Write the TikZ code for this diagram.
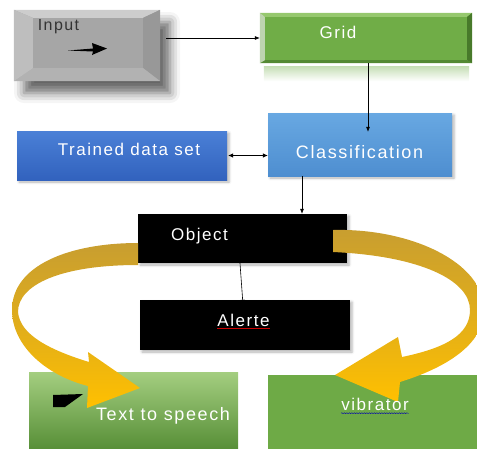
\documentclass[tikz,border=0pt]{standalone}
\usepackage{fontspec}
\setmainfont{Liberation Sans}
\newfontfamily\boxfont[LetterSpace=9]{Liberation Sans}
\usetikzlibrary{arrows.meta,shadows.blur,decorations.pathmorphing}

\definecolor{inputface}{RGB}{166,166,166}
\definecolor{inputtop}{RGB}{205,205,205}
\definecolor{inputleft}{RGB}{190,190,190}
\definecolor{inputright}{RGB}{152,152,152}
\definecolor{inputbottom}{RGB}{178,178,178}
\definecolor{gridgreen}{RGB}{112,173,71}
\definecolor{gridlight}{RGB}{150,200,110}
\definecolor{gridpale}{RGB}{190,212,175}
\definecolor{griddark}{RGB}{72,122,42}
\definecolor{trainedtop}{RGB}{74,128,214}
\definecolor{trainedbot}{RGB}{50,98,190}
\definecolor{classtop}{RGB}{104,168,226}
\definecolor{classbot}{RGB}{78,142,208}
\definecolor{ttstop}{RGB}{164,206,128}
\definecolor{ttsbot}{RGB}{86,142,54}
\definecolor{vibgreen}{RGB}{110,170,70}
\definecolor{ribbongold}{RGB}{200,158,48}
\definecolor{ribbonyellow}{RGB}{255,192,0}

\pgfdeclarelayer{front}
\pgfsetlayers{main,front}

\begin{document}
\begin{tikzpicture}[x=1pt,y=-1pt,
  box/.style={rectangle, inner sep=0pt},
  txt/.style={font=\boxfont\fontsize{17}{20}\selectfont, text=white, anchor=base, inner sep=0pt},
  link/.style={-{Latex[length=5pt,width=4pt]}, line width=0.6pt},
  softshadow/.style={blur shadow={shadow xshift=2pt, shadow yshift=-2pt, shadow blur radius=2.5pt, shadow opacity=30}},
  ribbon/.style={top color=ribbongold, bottom color=ribbonyellow, middle color=ribbongold!55!ribbonyellow}]
\useasboundingbox (0,0) rectangle (477,448);

% input key with bevel
\node[box, minimum width=146, minimum height=71, fill=inputface,
  blur shadow={shadow xshift=10pt, shadow yshift=-12pt, shadow blur radius=10pt, shadow opacity=60}] (input) at (87,45.5) {};
\fill[inputtop] (input.north west) -- (input.north east) -- ++(-17,8) -- ([shift={(19,8)}]input.north west) -- cycle;
\fill[inputright] (input.north east) -- (input.south east) -- ++(-17,-13) -- ([shift={(-17,8)}]input.north east) -- cycle;
\fill[inputbottom] (input.south east) -- (input.south west) -- ++(19,-13) -- ([shift={(-17,-13)}]input.south east) -- cycle;
\fill[inputleft] (input.south west) -- (input.north west) -- ++(19,8) -- ([shift={(19,-13)}]input.south west) -- cycle;
\fill[black] (68,50.5) -- (93,48.5) -- (92,43) -- (107,48.5) -- (92,55) -- (93,51.5) -- cycle;

% grid with thin bevel and reflection
\node[box, minimum width=212, minimum height=50, fill=gridgreen] (grid) at (366,38) {};
\fill[gridlight] (grid.north west) -- (grid.north east) -- ++(-5,4) -- ([shift={(5,4)}]grid.north west) -- cycle;
\fill[griddark] (grid.north east) -- (grid.south east) -- ++(-5,-3) -- ([shift={(-5,4)}]grid.north east) -- cycle;
\fill[griddark!70!gridgreen] (grid.south east) -- (grid.south west) -- ++(5,-3) -- ([shift={(-5,-3)}]grid.south east) -- cycle;
\fill[gridpale] (grid.south west) -- (grid.north west) -- ++(5,4) -- ([shift={(5,-3)}]grid.south west) -- cycle;
\shade[top color=gridgreen!40, bottom color=white] ([shift={(4,3)}]grid.south west) rectangle ([shift={(-3,18)}]grid.south east);

\node[box, minimum width=210, minimum height=49, top color=trainedtop, bottom color=trainedbot, softshadow] (trained) at (122,155.5) {};
\node[box, minimum width=184, minimum height=63, top color=classtop, bottom color=classbot, softshadow] (class) at (360,144.5) {};
\node[box, minimum width=209, minimum height=49, fill=black, softshadow] (object) at (242.5,238.5) {};
\node[box, minimum width=210, minimum height=50, fill=black, softshadow] (alerte) at (245,325) {};
\node[box, minimum width=209, minimum height=78, top color=ttstop, bottom color=ttsbot] (tts) at (133.5,411) {};
\node[box, minimum width=212, minimum height=75, fill=vibgreen] (vib) at (374,412.5) {};
\fill[black] (53,395) -- (83,394) -- (65,407) -- (53,407) -- cycle;

% connectors
\draw[link] (grid.west -| input.east) ++(6,0) -- (grid.west);
\draw[link] ([xshift=2pt]grid.south) -- ([xshift=8pt,yshift=-19pt]class.north);
\draw[{Latex[length=5pt,width=4.5pt]}-{Latex[length=5pt,width=4.5pt]}, line width=0.6pt] ([xshift=1pt]trained.east) -- (trained.east -| class.west);
\draw[link] ([xshift=-58pt]class.south) -- ([xshift=59.5pt]object.north);
\draw[link] ([xshift=-2.5pt]object.south) -- ([xshift=-2pt,yshift=-5pt]alerte.north);

% yellow ribbons
\shade[ribbon] (138,243) .. controls (70,243) and (12,265) .. (12,310)
  .. controls (12,345) and (45,375) .. (88,386) -- (87,408) -- (140,388) -- (88,352) -- (89,362)
  .. controls (50,350) and (20,335) .. (18,312)
  .. controls (18,285) and (60,265) .. (138,265) -- cycle;
\shade[ribbon] (333,230) .. controls (410,228) and (484,262) .. (484,310)
  .. controls (484,345) and (445,368) .. (400,382) -- (398,402) -- (335,375) -- (398,337) -- (402,357)
  .. controls (445,348) and (470,335) .. (470,310)
  .. controls (470,280) and (420,256) .. (333,252) -- cycle;

\begin{pgfonlayer}{front}
\node[txt, text=black!80, font=\boxfont\fontsize{16}{19}\selectfont] (inputtxt) at (58.5,30.5) {Input};
\node[txt] (gridtxt) at (338,38.5) {Grid};
\node[txt] (trainedtxt) at (129,155) {Trained data set};
\node[txt, font=\boxfont\fontsize{18}{21}\selectfont] (classtxt) at (359.5,158.3) {Classification};
\node[txt] (objecttxt) at (199.5,240) {Object};
\node[txt] (alertetxt) at (243.5,326.7) {Alerte};
\node[txt, font=\boxfont\fontsize{18}{21}\selectfont] (ttstxt) at (163,420) {Text to speech};
\node[txt] (vibtxt) at (375,410.7) {vibrator};
\draw[red!80!black, line width=0.5pt] ([yshift=-2pt]alertetxt.base west) -- ([yshift=-2pt]alertetxt.base east);
\draw[blue!70!black, line width=0.4pt, decorate, decoration={snake, amplitude=0.5pt, segment length=2.5pt}]
  ([yshift=-2.5pt]vibtxt.base west) -- ([yshift=-2.5pt]vibtxt.base east);
\end{pgfonlayer}
\end{tikzpicture}
\end{document}
